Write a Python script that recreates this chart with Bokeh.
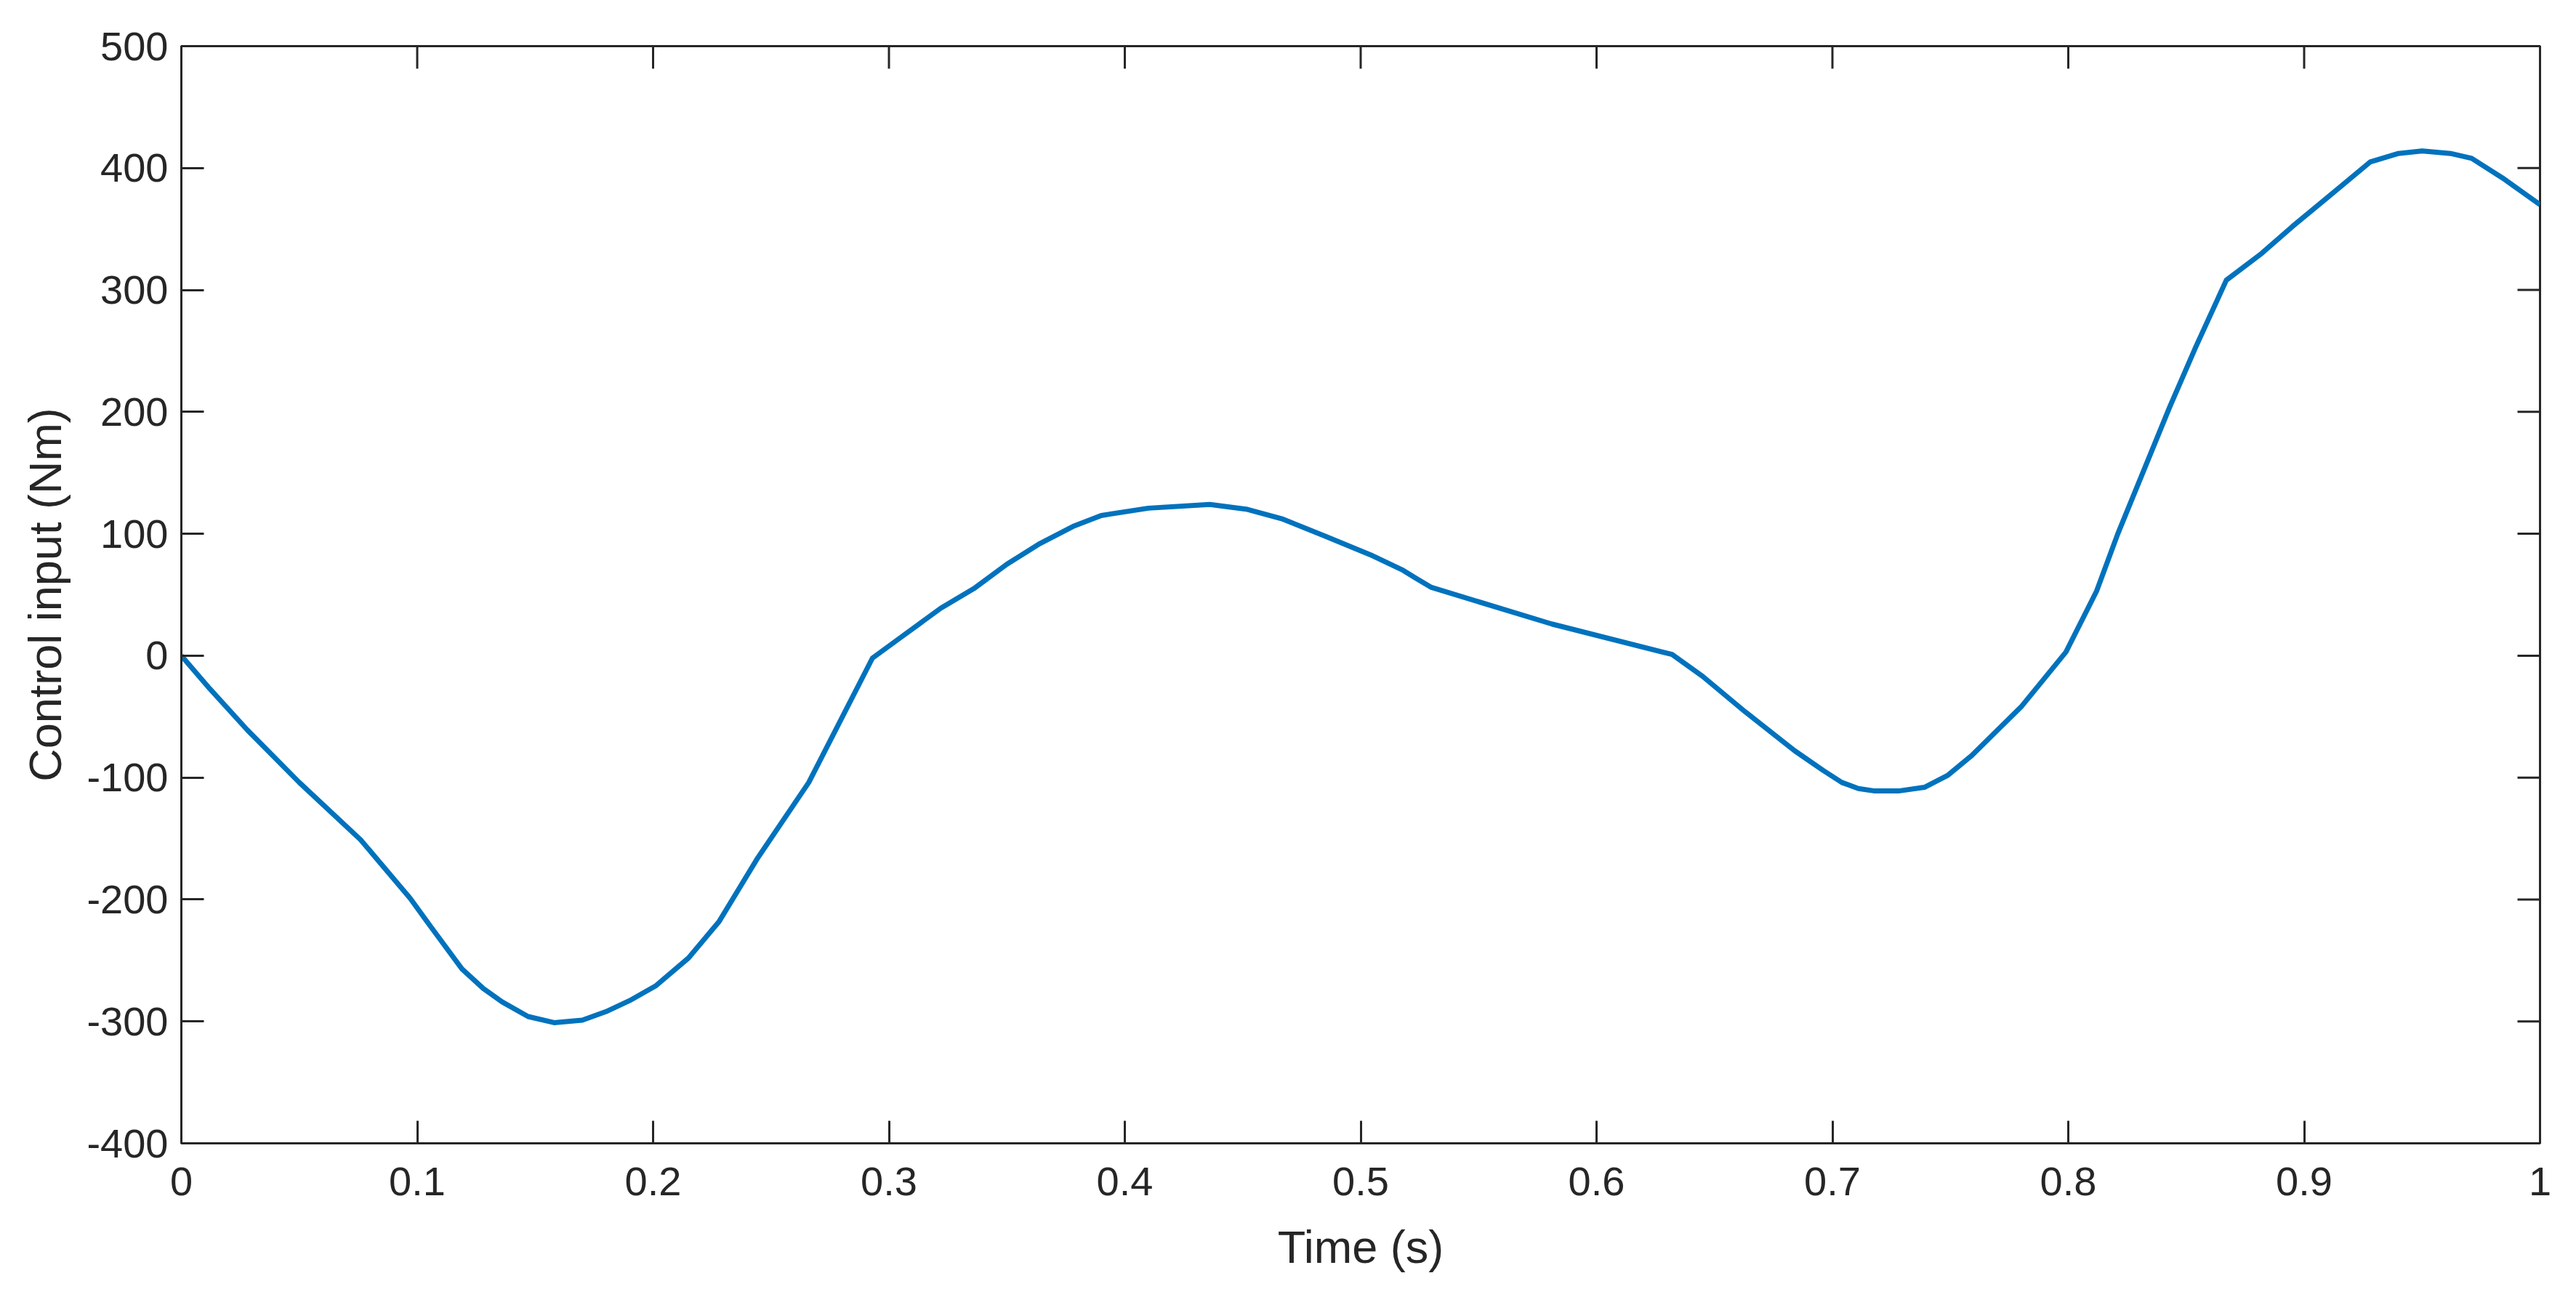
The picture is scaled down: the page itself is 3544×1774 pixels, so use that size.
import math
from bokeh.plotting import figure
from bokeh.models import FixedTicker, NumeralTickFormatter, Range1d
from bokeh.embed import file_html
from bokeh.resources import INLINE

time_s = [0, 0.012, 0.028, 0.05, 0.076, 0.097, 0.106, 0.119, 0.128, 0.136, 0.147, 0.158, 0.17,
          0.18, 0.19, 0.201, 0.215, 0.228, 0.244, 0.266, 0.293, 0.305, 0.322, 0.336, 0.35, 0.364,
          0.378, 0.39, 0.41, 0.436, 0.452, 0.467, 0.485, 0.505, 0.518, 0.523, 0.53, 0.581,
          0.632, 0.645, 0.663, 0.684, 0.696, 0.704, 0.711, 0.718, 0.728, 0.739, 0.749, 0.759,
          0.78, 0.799, 0.812, 0.821, 0.843, 0.854, 0.867, 0.882, 0.895, 0.91, 0.928, 0.94, 0.95,
          0.962, 0.971, 0.984, 1.0]
control_nm = [0, -27, -61, -104, -151, -199, -223, -257, -273, -284, -296, -301, -299,
              -292, -283, -271, -248, -218, -167, -104, -2, 15, 39, 55, 75, 92,
              106, 115, 121, 124, 120, 112, 98, 82, 70, 64, 56, 26,
              1, -17, -46, -78, -94, -104, -109, -111, -111, -108, -98, -82,
              -42, 3, 53, 100, 204, 253, 308, 330, 352, 376, 405, 412, 414,
              412, 408, 392, 370]

x_ticks = [0, 0.1, 0.2, 0.3, 0.4, 0.5, 0.6, 0.7, 0.8, 0.9, 1.0]
y_ticks = [-400, -300, -200, -100, 0, 100, 200, 300, 400, 500]

TXT = "#262626"
FONT = "Liberation Sans"
TICK = 31

xr = Range1d(x_ticks[0], x_ticks[-1])
yr = Range1d(y_ticks[0], y_ticks[-1])

p = figure(width=3528, height=1758, output_backend="svg", toolbar_location=None,
           x_range=xr, y_range=yr,
           min_border_left=249, min_border_right=34, min_border_top=63,
           min_border_bottom=185, x_axis_label="Time (s)",
           y_axis_label="Control input (Nm)")
p.background_fill_color = "white"
p.border_fill_color = "white"
p.grid.visible = False
p.outline_line_color = TXT
p.outline_line_width = 3

p.line(time_s, control_nm, line_color="#0072BD", line_width=7, line_join="round")

# box ticks on the top and right edges (pointing inward, clipped to the frame)
p.scatter(x_ticks, [yr.end] * len(x_ticks), marker="dash", size=2 * TICK,
          angle=math.pi / 2, line_color=TXT, line_width=3)
p.scatter([xr.end] * len(y_ticks), y_ticks, marker="dash", size=2 * TICK,
          line_color=TXT, line_width=3)

for ax in p.xaxis:
    ax.ticker = FixedTicker(ticks=x_ticks)
    ax.formatter = NumeralTickFormatter(format="0.[0]")
for ax in p.yaxis:
    ax.ticker = FixedTicker(ticks=y_ticks)
    ax.formatter = NumeralTickFormatter(format="0")

for ax in list(p.xaxis) + list(p.yaxis):
    ax.major_tick_in = TICK
    ax.major_tick_out = 0
    ax.minor_tick_line_color = None
    ax.axis_line_color = TXT
    ax.axis_line_width = 3
    ax.major_tick_line_color = TXT
    ax.major_tick_line_width = 3
    ax.major_label_text_font = FONT
    ax.major_label_text_font_size = "56px"
    ax.major_label_text_color = TXT
    ax.axis_label_text_font = FONT
    ax.axis_label_text_font_size = "63px"
    ax.axis_label_text_font_style = "normal"
    ax.axis_label_text_color = TXT

p.xaxis.major_label_standoff = 33
p.xaxis.axis_label_standoff = 33
p.yaxis.major_label_standoff = 18
p.yaxis.axis_label_standoff = 19

open("out.html", "w").write(file_html(p, INLINE))
